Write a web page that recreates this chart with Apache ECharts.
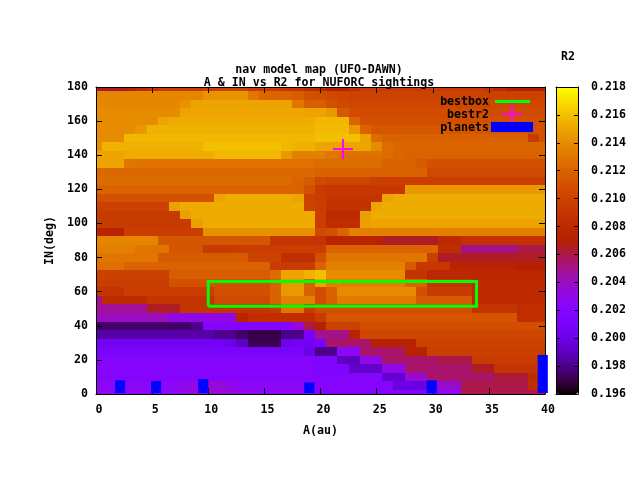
<!DOCTYPE html>
<html>
<head>
<meta charset="utf-8">
<style>html,body{margin:0;padding:0;background:#fff}#chart{width:640px;height:480px}</style>
<script src="https://cdn.jsdelivr.net/npm/echarts@6/dist/echarts.min.js"></script>
</head>
<body>
<div id="chart"></div>
<script>
// A(au) columns 0..40, one row per IN(deg), R2 values in thousandths
const aValues = [0,1,2,3,4,5,6,7,8,9,10,11,12,13,14,15,16,17,18,19,20,21,22,23,24,25,26,27,28,29,30,31,32,33,34,35,36,37,38,39,40];
const inValues = [180,175,170,165,160,155,150,145,140,135,130,125,120,115,110,105,100,95,90,85,80,75,70,65,60,55,50,45,40,35,30,25,20,15,10,5,0];
const in180 = [206.5,206.5,206.5,207,208,209,209.5,209.5,209.5,209.5,210,210,210,210,209.5,209.5,209.5,209,209,208.5,208,207,207,208.5,209.5,209.5,209.5,209.5,209.5,209.5,209.5,209.5,209.5,209.5,209.5,209,208,207,207,207,207];
const in175 = [213.7,213.7,213.7,213.7,213.7,213.7,213.7,213.7,213.7,213.7,214.3,214.3,214.3,214.3,213,212.2,212,212,211.7,211,210.8,210.5,210.2,210,210,210,210,210,210,210,210,210,210,210,210,210,210,210,210,210,210];
const in170 = [213.8,213.8,213.8,213.8,213.8,213.8,213.8,213.8,214.3,215,215,215,215,215,215,215,215,215,213,211.8,211.8,211,210.5,210.3,210.3,210.3,210.3,210.3,210.3,210.3,210.3,210.3,210.3,210.3,210.3,210.3,210.3,210.3,210.3,210.3,210.3];
const in165 = [214,214,214,214,214,214,214,214,215,215.1,215.1,215.1,215.1,215.1,215.1,215.1,215.1,215.1,215.1,215,215,214.5,211.5,210.7,210.7,210.7,210.7,210.7,210.7,210.7,210.7,210.7,210.7,210.7,210.7,210.7,210.7,210.7,210.7,210.7,210.7];
const in160 = [214,214,214,214,214,214,215,215.3,215.3,215.3,215.3,215.3,215.3,215.3,215.3,215.3,215.3,215.3,215.3,215.3,215.7,215.7,215.7,212,210.9,210.9,210.9,210.9,210.9,210.9,210.9,210.9,210.9,210.9,210.9,210.9,210.9,210.9,210.9,210.9,210.9];
const in155 = [214,214,214,214,214.5,215.5,215.5,215.5,215.5,215.5,215.5,215.5,215.5,215.5,215.5,215.5,215.5,215.5,215.5,215.5,215.8,215.8,215.8,214.5,212,211.3,211.3,211.3,211.3,211.3,211.3,211.3,211.3,211.3,211.3,211.3,211.3,211.3,211.3,211,211];
const in150 = [214,214,214,215.7,215.7,215.7,215.7,215.7,215.7,215.7,215.7,215.7,215.7,215.7,215.7,215.7,215.7,215.7,215.7,215.7,216,216,216,216,215,212.5,211.9,211.9,211.9,211.9,211.9,211.9,211.9,211.9,211.9,211.9,211.9,211.9,211.9,209.5,211];
const in145 = [214.2,215.5,215.5,215.5,215.5,215.5,215.5,215.5,215.5,215.5,216,216,216,216,216,216,216,215.7,215.5,215.5,215,215,215,215,215,214,212.5,212.2,212.2,212.2,212.2,212.2,212.2,212.2,212.2,212.2,212.2,212.2,212.2,212.2,212.2];
const in140 = [215,215,215,215.3,215.3,215.3,215.3,215.3,215.3,215.3,215.3,215.7,215.7,215.7,215.7,215.7,215.7,214.5,213.5,213.5,213.5,213,212.8,212.8,212.8,212.8,212.5,212.2,212,212,212,212,212,212,212,212,212,212,212,212,212];
const in135 = [215,215,215,213,212.8,212.8,212.8,212.8,212.8,212.8,212.8,212.8,212.8,212.8,212.8,212.8,212.8,212.8,212.8,212.8,212.5,212.5,212.5,212.5,212.5,212.5,212,212,212,211.5,211,211,211,211,211,211,211,211,211,211,211];
const in130 = [212.3,212.3,212.3,212.3,212.3,212.3,212.3,212.3,212.3,212.3,212.3,212.3,212.3,212.3,212.3,212.3,212.3,212.3,212.3,212.3,212,212,212,212,212,212,212,212,212,212,210.5,210.5,210.5,210.5,210.5,210.5,210.5,210.5,210.5,210.5,210.5];
const in125 = [212.5,212.5,212.5,212.5,212.5,212.5,212.5,212.5,212.5,212.5,212.5,212.5,212.5,212.5,212.5,212.5,212.5,212.5,212,211.5,210.5,210.2,210.2,210.2,210.2,209.8,209.8,209.8,209.8,209.8,209.8,209.8,209.8,209.8,209.8,209.8,209.8,209.8,209.8,209.8,209.8];
const in120 = [212,212,212,212,212,212,212,212,212,212,212,212,212,212,212,212,212,212,212,211,209.5,209.3,209.3,209.3,209.3,209.3,209.3,209.3,214.5,214.5,214.5,214.5,214.5,214.5,214.5,214.5,214.5,214.5,214.5,214.5,214.5];
const in115 = [211,211,211,211,211,211,211,211,211,211,211,215,215.3,215.3,215.3,215.3,215.3,215.3,215,210,209.7,209,209,209,209,209,215,215.3,215.3,215.3,215.3,215.3,215.3,215.3,215.3,215.3,215.3,215.3,215.3,215.3,215.3];
const in110 = [210,210,210,210,210,210,210,214.8,215.3,215.3,215.3,215.3,215.3,215.3,215.3,215.3,215.3,215.3,215.3,210,209.7,208.7,208.7,208.7,208.7,215,215.3,215.3,215.3,215.3,215.3,215.3,215.3,215.3,215.3,215.3,215.3,215.3,215.3,215.3,215.3];
const in105 = [209.5,209.5,209.5,209.5,209.5,209.5,209.5,209.5,214.8,215.3,215.3,215.3,215.3,215.3,215.3,215.3,215.3,215.3,215.3,215.3,209.7,208,208,208,214.8,215.3,215.3,215.3,215.3,215.3,215.3,215.3,215.3,215.3,215.3,215.3,215.3,215.3,215.3,215.3,215.3];
const in100 = [209.5,209.5,209.5,209.5,209.5,209.5,209.5,209.5,209.5,214.8,215.3,215.3,215.3,215.3,215.3,215.3,215.3,215.3,215.3,215.3,209.7,208.3,208.3,208.3,214.8,215,215,215,215,215,215,215,215,215,215,215,215,215,215,215,215];
const in95 = [207.5,207.5,207.5,209.7,209.7,209.7,209.7,209.7,209.7,209.7,214.2,214.2,214.2,214.2,214.2,214.2,214.2,214.2,214.2,214.2,210.5,211,212,213.5,213.5,213.5,213.5,213.5,213.5,213.5,213.5,213.5,213.5,213.5,213.5,213.5,213.5,213.5,213.5,213.5,213.5];
const in90 = [213.7,213.7,213.7,213.7,213.7,213.7,211.3,211.3,211.3,211.3,211.3,211.3,211.3,211.3,211.3,211.3,209,209,209,209,209,207.5,207.5,207.5,207.5,207.5,206.5,206.5,206.5,206.5,206.5,208,208,208.7,208.7,208.7,208.7,208.7,208.7,208.7,208.7];
const in85 = [213.5,213.5,213.5,213.5,213,213,213,211.2,211.2,211.2,209.5,209.5,209.5,209.7,209.7,209.7,209.7,209.7,209.7,209.7,209.7,212,212,212,212,212,212,212,212,212,212,208.3,208.3,205,205,205,205,205,206,206,206];
const in80 = [213,213,213,213,213,213,211.5,211.5,211.5,211.5,211.5,211.5,211.5,211.5,210,210,210,208.5,208.5,208.5,211,213,213,213,213,213,213,213,213,213,209.8,206.5,206.5,206.5,206.5,206.5,206.5,206.5,206.5,206.5,206.5];
const in75 = [212.7,212.7,212.7,212,212,212,212,212,212,212,212,212,212,212,212,212,209.5,209.5,209.5,209.5,212,213.5,213.5,213.5,213.5,213.5,213.5,213.5,211.5,209.3,209.3,209.3,207.5,207.5,207.5,207.5,207.5,207.5,207,207,207];
const in70 = [210,210,210,210,210,210,210,211.7,211.7,211.7,211.7,211.7,211.7,211.7,211.7,211.7,212.5,215,215,215.5,216,214,214,214,214,214,214,214,209,209,207.8,207.8,207.8,207.8,207.8,207.8,207.8,207.8,207.8,207.8,207.8];
const in65 = [209.7,209.7,209.7,209.7,209.7,209.7,209.7,211,211,211,211,211,211,211,211,211,212,214.5,214.5,212,215,213.5,213.5,213.5,213.5,213.5,213.5,213.5,212,212,209,209,209,209,208,208,208,208,208,208,208];
const in60 = [209,209,209,209.7,209.7,209.7,209.7,209.7,209.7,209.7,209.7,211,211,211,211,211,212,214.5,214.5,212,210.7,212,214,214,214,214,214,214,214,211,209.5,209.5,209.5,209.5,208,208,208,208,208,208,208];
const in55 = [205,208,208,208,208,209,209,209,209,209,209,210.5,210.5,210.5,210.5,210.5,212,213.5,213.5,213.5,210.7,211.8,213.3,213.3,213.3,213.3,213.3,213.3,213.3,211.5,211.5,211.5,211.5,211.5,208.2,208.2,208.2,208.2,208.2,208.2,208.2];
const in50 = [204.8,204.8,204.8,204.8,204.8,206.5,206.5,206.5,209,209,209,209,209,209,209,209,209.5,213,213,209.5,210.8,210.8,210.8,210.8,210.8,210.8,210.8,210.8,210.8,210.8,210.8,210.8,210.8,210.8,209,209,209,209,208.5,208.5,208.5];
const in45 = [204,204,204,204,204,204,204,203,203,203,203,203,203,207.5,208.5,208.5,208.5,208.5,208.5,208.5,209.5,211.2,211.2,211.2,211.2,211.2,211.2,211.2,211.2,211.2,211.2,211.2,211.2,211.2,211.2,211.2,211.2,211.2,208.5,208.5,208.5];
const in40 = [197.5,197.5,197.5,197.5,197.5,197.5,197.5,197.5,197.5,198,202,202,202,202,202,202,202,202,203.5,206,207,210,210,210,210.8,210.8,210.8,210.8,210.8,210.8,210.8,210.8,210.8,210.8,210.8,210.8,210.8,210.8,210.8,210.8,210.8];
const in35 = [198.5,198.5,198.5,198.5,198.5,198.5,198.5,198.5,198.5,198.5,198.5,198,198,197.5,197,197,197,198,198,201,205,205,205,207.5,210.3,210.3,210.3,210.3,210.3,210.3,210.3,210.3,210.3,210.3,210.3,210.3,210.3,210.3,210.3,210.3,210.3];
const in30 = [200.5,200.5,200.5,200.5,200.5,200.5,200.5,200.5,200.5,200.5,200.5,200.5,200,199,197.2,197.2,197.2,200,200.5,200.5,201,205.5,205.5,205.5,205.5,207.3,207.3,207.3,207.3,210,210,210,210,210,210,210,210,210,210,210,210];
const in25 = [201,201,201,201,201,201,201,201,201,201,201,201,201,201,201,201,201,201,201,200,198,198,202.5,202.5,205.5,205.5,205.5,205.5,207.3,207.3,209.8,209.8,209.8,209.8,209.8,209.8,209.8,209.8,209.8,209.8,209.8];
const in20 = [202,202,202,202,202,202,202,202,202,202,202,202,202,202,202,202,202,202,202,202,201.5,201.5,199,199,203,203,205.5,205.5,205.5,205.5,205.5,206,206,206,209.5,209.5,209.5,209.5,209.5,209.5,209.5];
const in15 = [202,202,202,202,202,202,202,202,202,202,202,202,202,202,202,202,202,202,202,202,201.5,201.5,201.5,199.2,199.2,199.2,203,203,205.5,205.5,205.5,205.5,205.5,205.5,206.5,206.5,209,209,209,209,209];
const in10 = [202,202,202,202,202,202,202,202,202,202,202,202,202,202,202,202,202,202,202,202,201.8,201.8,201.8,201.8,201.8,201.8,199.5,199.5,203.5,203.5,205.5,205.5,205.5,205.5,205.5,205.5,206.2,206.2,206.2,208.2,208.2];
const in5 = [202.5,202.5,202.5,202.5,202.5,202.5,202.5,202.5,203,203,203.5,203.5,203,202.5,202.5,202.5,202.5,202.5,202.5,202.5,202,202,202,202,202,202,202,199.8,199.8,199.8,202,203.7,203.7,206,206,206,206,206,206,208.5,208.5];
const in0 = [202.5,202.5,202.5,202.5,202.5,202.5,202.5,202.5,203,203.5,203.5,203.5,203.5,203,202.5,202.5,202.5,202.5,202.5,202.5,202,202,202,202,202,202,202,202,202,202,202,202.5,202.5,206,206,206,206,206,206,206,206];
const r2Rows = [in180,in175,in170,in165,in160,in155,in150,in145,in140,in135,in130,in125,in120,in115,in110,in105,in100,in95,in90,in85,in80,in75,in70,in65,in60,in55,in50,in45,in40,in35,in30,in25,in20,in15,in10,in5,in0];

// other plotted things
const boxA = [10,33.9,33.9,10,10];
const boxIn = [51.5,51.5,66,66,51.5];
const bestA = [22];
const bestIn = [143.6];
const planetA = [2.15,5.35,9.55,19,29.9,39.8];
const planetIn = [8,7.6,8.8,6.8,8,22.9];
const planetWidth = 0.9;

const r2Min = 0.196, r2Max = 0.218;
const CELL_A = 1, CELL_IN = 5;
const FONT = '"DejaVu Sans Mono"';

// gnuplot default palette, rgbformulae 7,5,15
function paletteColor(t) {
  const r = Math.sqrt(t), g = t * t * t, b = Math.max(0, Math.sin(2 * Math.PI * t));
  return 'rgb(' + Math.round(r * 255) + ',' + Math.round(g * 255) + ',' + Math.round(b * 255) + ')';
}
var paletteStops = [];
for (let i = 0; i <= 64; i++) paletteStops.push(paletteColor(i / 64));

var cells = [];
r2Rows.forEach(function (row, j) {
  row.forEach(function (v, i) {
    cells.push([aValues[i], inValues[j], v / 1000]);
  });
});
var boxLine = boxA.map(function (a, i) { return [a, boxIn[i]]; });
var bestPoint = bestA.map(function (a, i) { return [a, bestIn[i]]; });
var planets = planetA.map(function (a, i) { return [a, planetIn[i]]; });

function renderCell(params, api) {
  const a = api.value(0), d = api.value(1);
  const p0 = api.coord([a - CELL_A / 2, d + CELL_IN / 2]);
  const p1 = api.coord([a + CELL_A / 2, d - CELL_IN / 2]);
  const x0 = Math.round(p0[0]), y0 = Math.round(p0[1]);
  return {
    type: 'rect',
    shape: { x: x0, y: y0, width: Math.round(p1[0]) - x0, height: Math.round(p1[1]) - y0 },
    style: { fill: api.visual('color') }
  };
}

function renderCross(params, api) {
  const p = api.coord([api.value(0), api.value(1)]);
  const st = { stroke: '#ff00ff', lineWidth: 2 };
  return {
    type: 'group',
    children: [
      { type: 'line', shape: { x1: p[0] - 10, y1: p[1], x2: p[0] + 10, y2: p[1] }, style: st },
      { type: 'line', shape: { x1: p[0], y1: p[1] - 10, x2: p[0], y2: p[1] + 10 }, style: st }
    ]
  };
}

function renderPlanet(params, api) {
  const a = api.value(0);
  const p0 = api.coord([a - planetWidth / 2, api.value(1)]);
  const p1 = api.coord([a + planetWidth / 2, 0]);
  return {
    type: 'rect',
    shape: { x: p0[0], y: p0[1], width: p1[0] - p0[0], height: p1[1] - p0[1] - 1 },
    style: { fill: '#0000ff' }
  };
}

function frameAxis(extra) {
  return Object.assign({
    type: 'value',
    z: 5,
    splitLine: { show: false },
    axisLine: { show: true, onZero: false, lineStyle: { color: '#000', width: 1 } },
    axisTick: { show: true, inside: true, length: 6, lineStyle: { color: '#000', width: 1 } },
    axisLabel: { show: false, color: '#000', fontFamily: FONT, fontSize: 11.6, fontWeight: 'bold' },
    nameTextStyle: { color: '#000', fontFamily: FONT, fontSize: 11.6, fontWeight: 'bold' }
  }, extra);
}

var textStyle = { fill: '#000', font: 'bold 11.6px ' + FONT };
var labelStyle = { show: true, color: '#000', fontFamily: FONT, fontSize: 11.6, fontWeight: 'bold' };

echarts.init(document.getElementById('chart')).setOption({
  animation: false,
  backgroundColor: '#fff',
  title: {
    text: 'nav model map (UFO-DAWN)\nA & IN vs R2 for NUFORC sightings',
    left: 319,
    top: 58,
    padding: [5, 0, 0, 0],
    textAlign: 'center',
    textStyle: { color: '#000', fontFamily: FONT, fontSize: 11.6, fontWeight: 'bold', lineHeight: 13 }
  },
  grid: [
    { left: 96, top: 87, width: 449, height: 307 },
    { left: 556, top: 87, width: 22, height: 307 }
  ],
  xAxis: [
    frameAxis({ gridIndex: 0, position: 'bottom', min: 0, max: 40, interval: 5, name: 'A(au)', nameLocation: 'middle', nameGap: 31,
      axisLabel: Object.assign({ margin: 10, padding: [0, 0, 0, 6] }, labelStyle) }),
    frameAxis({ gridIndex: 0, position: 'top', min: 0, max: 40, interval: 5 }),
    frameAxis({ gridIndex: 1, position: 'bottom', min: 0, max: 1, axisTick: { show: false }, z: 10 }),
    frameAxis({ gridIndex: 1, position: 'top', min: 0, max: 1, axisTick: { show: false }, z: 10 })
  ],
  yAxis: [
    frameAxis({ gridIndex: 0, position: 'left', min: 0, max: 180, interval: 20, name: 'IN(deg)', nameLocation: 'middle', nameGap: 30,
      axisLabel: Object.assign({ margin: 8 }, labelStyle) }),
    frameAxis({ gridIndex: 0, position: 'right', min: 0, max: 180, interval: 20 }),
    frameAxis({ gridIndex: 1, position: 'left', min: r2Min, max: r2Max, interval: 0.002, z: 10, axisTick: { show: true, inside: true, length: 4, lineStyle: { color: '#000' } } }),
    frameAxis({ gridIndex: 1, position: 'right', min: r2Min, max: r2Max, interval: 0.002, z: 10,
      axisTick: { show: true, inside: true, length: 4, lineStyle: { color: '#000' } },
      axisLabel: Object.assign({ margin: 13, formatter: function (v) { return v.toFixed(3); } }, labelStyle) })
  ],
  visualMap: {
    type: 'continuous',
    min: r2Min,
    max: r2Max,
    dimension: 2,
    seriesIndex: 0,
    calculable: false,
    hoverLink: false,
    realtime: false,
    left: 556,
    top: 87,
    padding: 0,
    itemWidth: 22,
    itemHeight: 307,
    text: null,
    inRange: { color: paletteStops }
  },
  graphic: [
    { type: 'text', x: 568, y: 57, style: Object.assign({ text: 'R2', align: 'center', verticalAlign: 'middle' }, textStyle) },
    { type: 'text', x: 489, y: 102, z: 20, style: Object.assign({ text: 'bestbox', align: 'right', verticalAlign: 'middle' }, textStyle) },
    { type: 'text', x: 489, y: 115, z: 20, style: Object.assign({ text: 'bestr2', align: 'right', verticalAlign: 'middle' }, textStyle) },
    { type: 'text', x: 489, y: 128, z: 20, style: Object.assign({ text: 'planets', align: 'right', verticalAlign: 'middle' }, textStyle) },
    { type: 'rect', z: 20, shape: { x: 495, y: 100, width: 35, height: 3 }, style: { fill: '#00ff00' } },
    { type: 'line', z: 20, shape: { x1: 502, y1: 114, x2: 522, y2: 114 }, style: { stroke: '#ff00ff', lineWidth: 2 } },
    { type: 'line', z: 20, shape: { x1: 512, y1: 104, x2: 512, y2: 122 }, style: { stroke: '#ff00ff', lineWidth: 2 } },
    { type: 'rect', z: 20, shape: { x: 491, y: 122, width: 42, height: 10 }, style: { fill: '#0000ff' } }
  ],
  series: [
    {
      name: 'R2',
      type: 'custom',
      xAxisIndex: 0,
      yAxisIndex: 0,
      clip: true,
      silent: true,
      progressive: 0,
      encode: { x: 0, y: 1 },
      renderItem: renderCell,
      data: cells,
      z: 1
    },
    {
      name: 'bestbox',
      type: 'line',
      xAxisIndex: 0,
      yAxisIndex: 0,
      symbol: 'none',
      silent: true,
      lineStyle: { color: '#00ff00', width: 3, join: 'miter' },
      data: boxLine,
      z: 7
    },
    {
      name: 'bestr2',
      type: 'custom',
      xAxisIndex: 0,
      yAxisIndex: 0,
      silent: true,
      renderItem: renderCross,
      data: bestPoint,
      z: 8
    },
    {
      name: 'planets',
      type: 'custom',
      xAxisIndex: 0,
      yAxisIndex: 0,
      silent: true,
      clip: false,
      renderItem: renderPlanet,
      data: planets,
      z: 9
    }
  ]
});
</script>
</body>
</html>
